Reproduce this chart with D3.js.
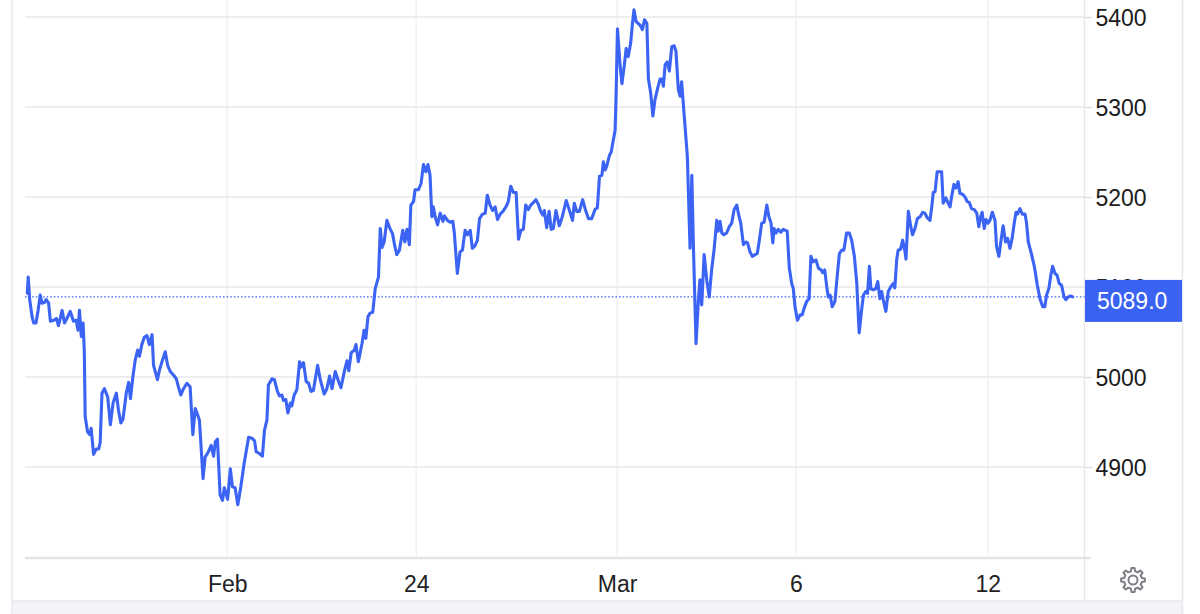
<!DOCTYPE html>
<html>
<head>
<meta charset="utf-8">
<script src="https://cdn.jsdelivr.net/npm/d3@7"></script>
<style>
  html, body { margin: 0; padding: 0; background: #ffffff; }
  svg { display: block; font-family: "Liberation Sans", Arial, Helvetica, sans-serif; }
</style>
</head>
<body>
<svg id="chart" width="1200" height="614"></svg>
<script>
// ---------- DATA ----------
// [session step, price]
const quotes = [
[0,5093],[0.3,5111],[0.8,5086],[1.6,5067],[2.1,5060],[2.9,5060],[3.6,5074],[4.3,5091],[4.9,5082],[5.8,5083],[6.3,5086],[7.1,5082],[7.7,5062],[8.8,5063],[9.7,5065],[10.4,5057],[11.6,5074],[12.4,5060],[13.2,5065],[14.3,5073],[15.4,5062],[16.3,5063],[16.9,5052],[17.4,5074],[18,5045],[18.6,5060],[19,5030],[19.3,4956],[20.1,4939],[20.8,4936],[21.3,4943],[22.1,4914],[23,4920],[23.8,4920],[24.3,4927],[24.9,4982],[25.7,4987],[26.8,4978],[27.7,4947],[28.6,4971],[29.7,4982],[30.4,4963],[31.2,4949],[31.9,4953],[33,4982],[33.8,4994],[34.4,4976],[35.2,5000],[36,5019],[36.8,5030],[37.4,5023],[38.2,5036],[39,5044],[39.9,5046],[40.7,5036],[41.6,5047],[42.1,5013],[43.4,4997],[44.1,5008],[45.1,5019],[46,5028],[46.8,5013],[47.7,5006],[48.8,5002],[49.7,4998],[50.4,4989],[51.2,4980],[52.1,4987],[53.2,4993],[54.3,4989],[55.2,4936],[56,4965],[56.6,4960],[57.4,4952],[58.6,4887],[59.3,4911],[60.4,4917],[61.3,4924],[62.1,4912],[62.7,4928],[63.4,4931],[64.3,4869],[65.1,4863],[65.7,4877],[66.8,4864],[67.7,4898],[68.4,4878],[69.3,4877],[70.2,4858],[71.2,4878],[72.3,4904],[73.8,4933],[74.9,4932],[75.8,4929],[76.3,4917],[77.4,4915],[78.4,4912],[79.1,4941],[79.9,4952],[80.4,4991],[81.6,4998],[82.4,4997],[83.4,4984],[84.1,4979],[84.9,4980],[85.4,4974],[86.2,4975],[86.9,4960],[87.7,4971],[88.2,4968],[89,4980],[89.9,4986],[90.8,5017],[91.3,5011],[92.1,5016],[93,4995],[93.8,4993],[94.6,4984],[95.4,4985],[96.8,5013],[97.7,4997],[99,4981],[99.9,4987],[100.8,5001],[101.6,4987],[102.7,5006],[103.8,4995],[104.6,4988],[105.7,5006],[106.6,5018],[107.2,5007],[108,5027],[109.1,5030],[109.6,5036],[110.4,5017],[111.6,5037],[112.3,5052],[112.9,5043],[113.6,5067],[114.3,5071],[115.2,5072],[116,5098],[117.1,5111],[117.7,5165],[118.3,5144],[119,5150],[119.9,5174],[120.8,5166],[121.8,5159],[122.4,5148],[123.2,5136],[124.1,5141],[125.2,5163],[125.9,5150],[126.6,5164],[127.4,5147],[127.9,5191],[128.8,5195],[129.3,5208],[130.4,5208],[131.3,5215],[132.1,5236],[132.9,5228],[133.6,5236],[134.3,5224],[134.9,5178],[135.4,5189],[136,5178],[136.8,5169],[137.7,5182],[138.6,5173],[139.1,5179],[140.1,5174],[141,5172],[141.9,5173],[142.4,5160],[143.4,5115],[144.3,5139],[145.1,5141],[146,5163],[146.8,5158],[147.7,5163],[148.4,5143],[149.3,5146],[150.1,5152],[150.8,5176],[151.8,5181],[152.7,5182],[153.4,5202],[154.3,5191],[155.2,5185],[156,5189],[156.8,5175],[157.7,5181],[158.6,5184],[159.6,5189],[160.4,5195],[161.2,5212],[162.1,5205],[163,5205],[163.8,5153],[164.6,5163],[165.4,5164],[166.2,5191],[167.1,5186],[167.9,5191],[168.8,5194],[169.6,5197],[170.4,5192],[171.2,5184],[171.9,5180],[172.4,5185],[173.2,5166],[174,5184],[174.7,5164],[175.4,5165],[176.3,5185],[177.4,5168],[178.4,5178],[179.7,5196],[180.7,5186],[181.8,5174],[182.4,5193],[183.2,5184],[184.1,5184],[185.2,5197],[186,5187],[187.1,5176],[188.2,5176],[189.3,5186],[190.1,5188],[190.8,5223],[191.6,5224],[192.1,5239],[192.7,5230],[193.2,5234],[194.1,5246],[194.7,5250],[195.4,5263],[196,5274],[196.3,5308],[196.8,5387],[197.7,5345],[198.3,5326],[199.1,5347],[199.7,5365],[200.4,5356],[201.2,5371],[201.8,5393],[202.3,5408],[203,5395],[204.3,5391],[205.1,5386],[205.8,5397],[206.6,5393],[207.1,5332],[207.9,5315],[208.6,5290],[209.3,5308],[210.2,5321],[211,5331],[211.6,5331],[212.1,5323],[212.7,5347],[213.4,5350],[214.1,5340],[214.9,5367],[215.7,5368],[216.3,5362],[217.1,5319],[217.7,5312],[218.2,5328],[219,5293],[220.1,5245],[221,5143],[221.6,5224],[222.1,5148],[223,5037],[223.8,5086],[224.3,5108],[224.9,5080],[225.7,5136],[226.6,5107],[227.4,5089],[228.2,5119],[229,5141],[229.9,5174],[230.4,5162],[231,5173],[231.6,5160],[232.3,5158],[233.2,5160],[234.1,5167],[234.9,5171],[235.7,5186],[236.6,5191],[237.1,5182],[237.9,5171],[238.8,5147],[239.6,5150],[240.2,5149],[241,5139],[241.8,5134],[242.7,5136],[243.4,5137],[244.1,5152],[244.9,5171],[245.7,5172],[246.6,5191],[247.3,5178],[248,5171],[248.6,5149],[249,5165],[249.7,5160],[250.4,5164],[251.3,5161],[252.1,5164],[253.4,5162],[254.1,5121],[254.9,5104],[255.4,5099],[256,5078],[256.8,5063],[257.7,5069],[258.4,5069],[259,5076],[259.9,5084],[260.7,5087],[261.3,5134],[262.1,5128],[263,5130],[263.8,5121],[264.7,5119],[265.2,5116],[265.9,5119],[266.6,5100],[267.1,5089],[267.7,5091],[268.4,5078],[269.3,5084],[270.1,5113],[270.8,5137],[271.6,5141],[272.3,5141],[273.2,5160],[274.1,5160],[274.9,5152],[275.8,5134],[276.6,5104],[277.1,5069],[277.4,5049],[278.2,5074],[278.8,5091],[279.6,5095],[280.2,5093],[280.8,5123],[281.3,5098],[282.1,5097],[282.9,5098],[283.6,5106],[284.3,5087],[284.9,5095],[285.4,5086],[286.3,5073],[287.1,5095],[287.9,5100],[288.8,5104],[289.3,5099],[289.9,5130],[290.4,5141],[291.2,5142],[291.9,5152],[292.7,5139],[293,5131],[293.8,5184],[294.6,5167],[295.2,5158],[296,5165],[296.8,5176],[297.7,5178],[298.6,5183],[299.3,5182],[300.1,5177],[301,5174],[301.6,5189],[302.1,5205],[302.7,5206],[303.4,5228],[304.9,5228],[305.4,5193],[306.3,5199],[307.1,5193],[307.7,5189],[308.2,5200],[309,5214],[309.7,5210],[310.4,5217],[311,5204],[311.9,5203],[312.7,5200],[313.4,5195],[314.1,5194],[314.9,5187],[315.8,5186],[316.6,5182],[317.3,5167],[317.9,5178],[318.4,5183],[319.1,5165],[319.7,5175],[320.4,5171],[321,5174],[321.8,5183],[322.7,5174],[323.2,5145],[324,5134],[324.7,5152],[325.4,5168],[326.2,5150],[326.9,5154],[327.7,5143],[328.4,5154],[329.1,5171],[329.7,5183],[330.2,5181],[331,5187],[331.8,5181],[332.7,5181],[333.2,5171],[333.8,5150],[334.9,5136],[335.8,5123],[336.8,5102],[337.7,5087],[338.6,5078],[339.3,5078],[339.9,5091],[340.7,5099],[341.3,5113],[341.9,5123],[342.7,5115],[343.4,5113],[344.1,5104],[344.9,5102],[345.7,5089],[346.3,5086],[347.1,5089],[347.9,5090],[348.6,5089]
];
const yTickValues = [4900, 5000, 5100, 5200, 5300, 5400];
const gridValues = [4800, 4900, 5000, 5100, 5200, 5300, 5400];
const xTickSteps = [66.7, 129.7, 196.7, 256.3, 320.3];
const xTickLabels = ["Feb", "24", "Mar", "6", "12"];
const lastPrice = 5089.0;

// ---------- DRAW ----------
const svg = d3.select("#chart");
const x = d3.scaleLinear().domain([0, 348.6]).range([27.3, 1072.7]);
const y = d3.scaleLinear().domain([4800, 5400]).range([557, 17]);

const plotLeft = 25, plotRight = 1084.5, sepX = 1084.5, rightEdge = 1182.5, bandTop = 601;
const fontStack = '"Liberation Sans", Arial, Helvetica, sans-serif';

// bottom band
svg.append("rect").attr("x", 12).attr("y", bandTop).attr("width", rightEdge - 12).attr("height", 614 - bandTop)
  .attr("fill", "#f3f4f7");
svg.append("line").attr("x1", 12).attr("x2", rightEdge).attr("y1", bandTop).attr("y2", bandTop)
  .attr("stroke", "#e6e7eb").attr("stroke-width", 1.5);

// borders
svg.append("line").attr("x1", 12).attr("x2", 12).attr("y1", 0).attr("y2", 614).attr("stroke", "#e6e8ec").attr("stroke-width", 1.5);
svg.append("line").attr("x1", rightEdge).attr("x2", rightEdge).attr("y1", 0).attr("y2", 614).attr("stroke", "#e6e8ec").attr("stroke-width", 1.5);
svg.append("line").attr("x1", sepX).attr("x2", sepX).attr("y1", 0).attr("y2", bandTop).attr("stroke", "#e6e8ec").attr("stroke-width", 1.5);

// vertical gridlines
svg.append("g").selectAll("line").data(xTickSteps).join("line")
  .attr("x1", d => x(d)).attr("x2", d => x(d)).attr("y1", 0).attr("y2", y(4800) - 1)
  .attr("stroke", "#eef1f5").attr("stroke-width", 1.5);

// horizontal gridlines
svg.append("g").selectAll("line").data(gridValues.filter(v => v !== 4800)).join("line")
  .attr("x1", plotLeft).attr("x2", plotRight).attr("y1", d => y(d)).attr("y2", d => y(d))
  .attr("stroke", "#e9e9eb").attr("stroke-width", 1.3);

// bottom axis line
svg.append("line").attr("x1", plotLeft).attr("x2", sepX + 6).attr("y1", y(4800) + 1).attr("y2", y(4800) + 1)
  .attr("stroke", "#e3e4e7").attr("stroke-width", 2.5);

// right axis
const yAxis = d3.axisRight(y).tickValues(yTickValues).tickSize(8).tickPadding(4).tickFormat(d3.format("d"));
const gy = svg.append("g").attr("transform", `translate(${sepX},0)`).call(yAxis);
gy.select(".domain").remove();
gy.selectAll(".tick line").attr("stroke", "#dcdde1").attr("stroke-width", 1.2);
gy.selectAll(".tick text").attr("font-family", fontStack).attr("font-size", 23).attr("fill", "#1b1b1b")
  .attr("x", 11).attr("dy", "0.36em");

// x axis labels
const xAxis = d3.axisBottom(x).tickValues(xTickSteps).tickSize(0).tickPadding(0).tickFormat((d, i) => xTickLabels[i]);
const gx = svg.append("g").attr("transform", "translate(0,0)").call(xAxis);
gx.select(".domain").remove();
gx.selectAll(".tick text").attr("font-family", fontStack).attr("font-size", 23).attr("fill", "#222")
  .attr("y", 592).attr("dy", 0);

// price line
const line = d3.line().x(d => x(d[0])).y(d => y(d[1])).curve(d3.curveLinear);
svg.append("path").datum(quotes).attr("d", line)
  .attr("fill", "none").attr("stroke", "#3c64f4").attr("stroke-width", 3.1)
  .attr("stroke-linejoin", "round").attr("stroke-linecap", "round");

// last price dotted line
svg.append("line").attr("x1", plotLeft).attr("x2", sepX).attr("y1", y(lastPrice)).attr("y2", y(lastPrice))
  .attr("stroke", "#3c64f4").attr("stroke-width", 1.2).attr("stroke-dasharray", "1.6,2");

// last price label
const boxTop = y(lastPrice) - 17, boxH = 42;
svg.append("rect").attr("x", sepX + 0.5).attr("y", boxTop).attr("width", rightEdge - sepX - 1).attr("height", boxH)
  .attr("fill", "#3a63f3");
svg.append("text").attr("x", 1097).attr("y", boxTop + boxH / 2).attr("dy", "0.36em")
  .attr("font-family", fontStack).attr("font-size", 23).attr("fill", "#ffffff")
  .text(d3.format(".1f")(lastPrice));

// gear icon
(function gear(cx, cy) {
  const teeth = 8, rOut = 12, rIn = 9;
  const pts = [];
  for (let i = 0; i < teeth; i++) {
    const a0 = (i / teeth) * 2 * Math.PI;
    const step = 2 * Math.PI / teeth;
    pts.push([a0 - step * 0.17, rOut], [a0 + step * 0.17, rOut], [a0 + step * 0.3, rIn], [a0 + step * 0.7, rIn]);
  }
  const p = d3.path();
  pts.forEach((q, i) => {
    const px = cx + q[1] * Math.cos(q[0]), py = cy + q[1] * Math.sin(q[0]);
    if (i === 0) p.moveTo(px, py); else p.lineTo(px, py);
  });
  p.closePath();
  svg.append("path").attr("d", p.toString()).attr("fill", "none").attr("stroke", "#7d7f85")
    .attr("stroke-width", 2).attr("stroke-linejoin", "round");
  svg.append("circle").attr("cx", cx).attr("cy", cy).attr("r", 4.5).attr("fill", "none")
    .attr("stroke", "#7d7f85").attr("stroke-width", 2);
})(1133, 580);
</script>
</body>
</html>
